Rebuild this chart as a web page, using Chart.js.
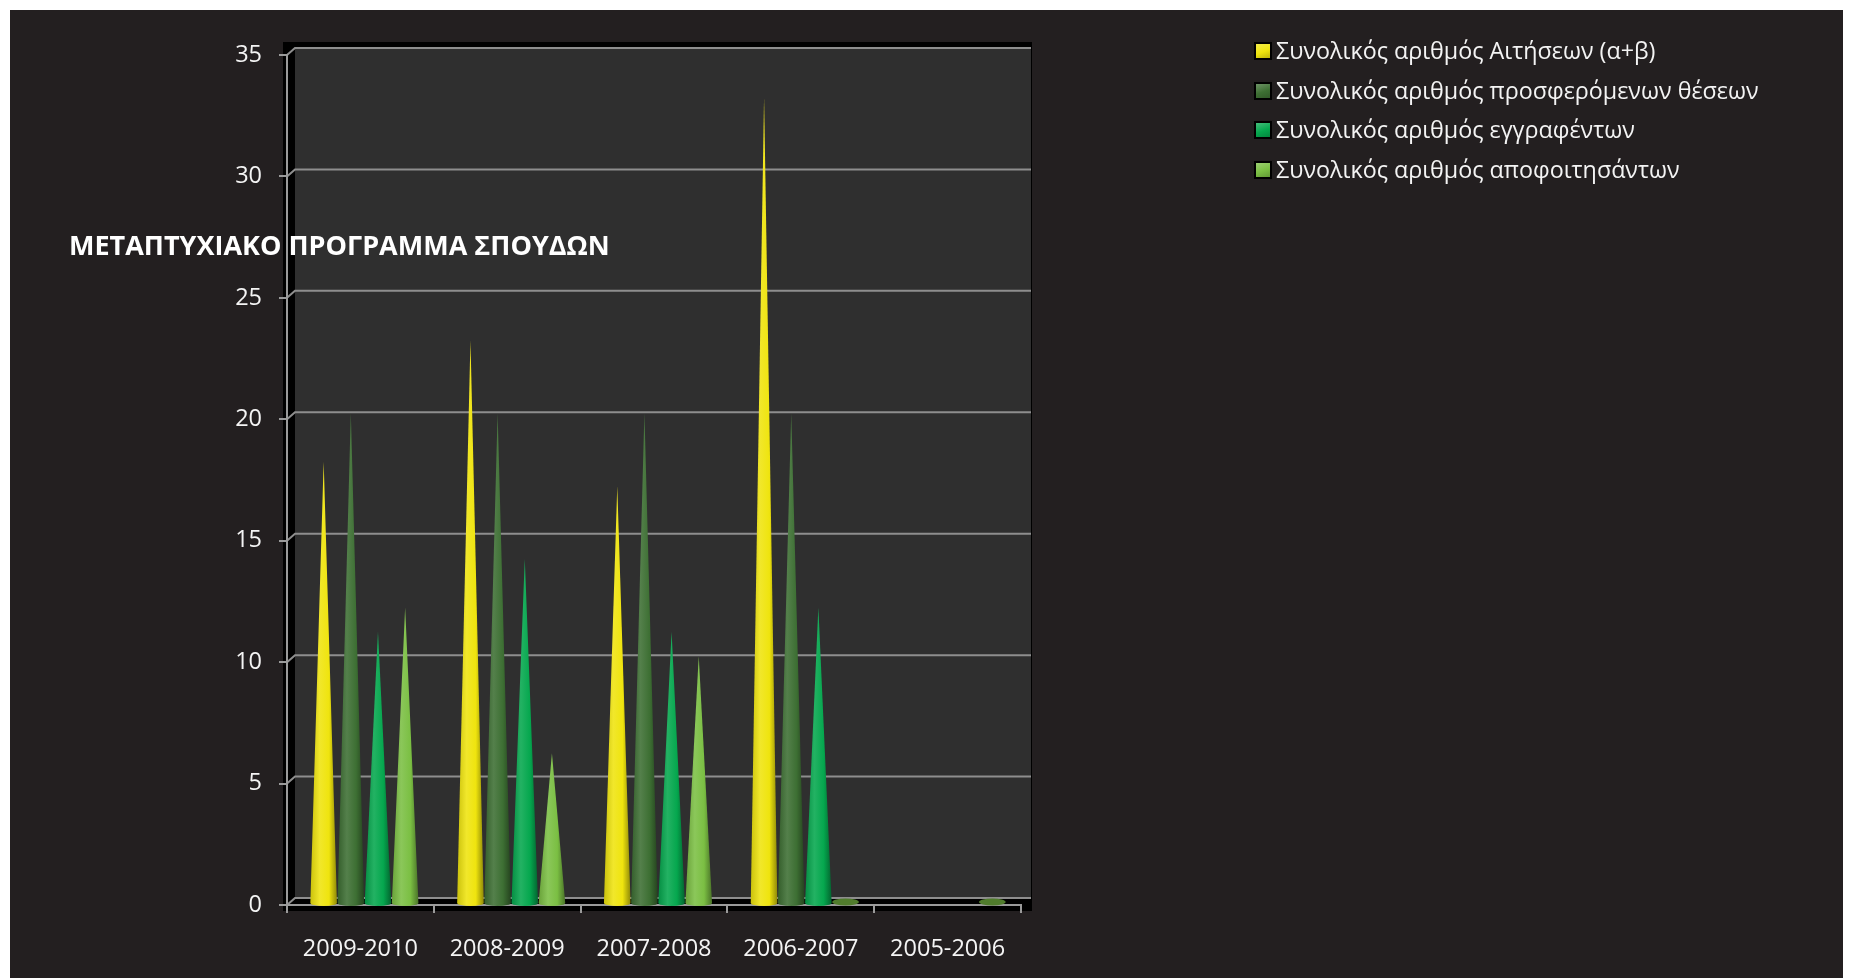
<!DOCTYPE html>
<html>
<head>
<meta charset="utf-8">
<script src="https://cdn.jsdelivr.net/npm/chart.js@4.4.1/dist/chart.umd.min.js"></script>
<style>
  html, body { margin: 0; padding: 0; background: #ffffff; }
  #frame { position: absolute; left: 10px; top: 10px; width: 1833px; height: 968px; background: #231f20; }
  #wrap { position: absolute; left: 0; top: 0; width: 1859px; height: 978px; }
  #title { position: absolute; left: 69px; top: 226px; color: #ffffff; font: bold 27px "Open Sans"; white-space: nowrap; }
  #legend { position: absolute; left: 1254px; top: 30px; font: 23.3px "Open Sans"; color: #f4f4f4; }
  #legend div { height: 39.5px; line-height: 40px; white-space: nowrap; }
  #legend span { display: inline-block; width: 14px; height: 14px; border: 2px solid #000; margin-right: 4px; vertical-align: -1px; }
</style>
</head>
<body>
<div id="frame"></div>
<div id="wrap"><canvas id="myChart"></canvas></div>
<div id="title">ΜΕΤΑΠΤΥΧΙΑΚΟ ΠΡΟΓΡΑΜΜΑ ΣΠΟΥΔΩΝ</div>
<div id="legend"></div>
<script>
var years = ['2009-2010', '2008-2009', '2007-2008', '2006-2007', '2005-2006'];
var seriesNames = [
    'Συνολικός αριθμός Αιτήσεων (α+β)',
    'Συνολικός αριθμός προσφερόμενων θέσεων',
    'Συνολικός αριθμός εγγραφέντων',
    'Συνολικός αριθμός αποφοιτησάντων'
];
var applications = [18, 23, 17, 33, null];
var places = [20, 20, 20, 20, null];
var enrolled = [11, 14, 11, 12, null];
var graduates = [12, 6, 10, 0, 0];
var yTicks = [0, 5, 10, 15, 20, 25, 30, 35];
var colors = ['#efe40e', '#3d6f33', '#05a74e', '#7bbf43'];

// 3d depth of the walls
var DX = 8, DY = -7;

function shade(hex, f) {
    var n = parseInt(hex.slice(1), 16);
    var r = n >> 16, g = (n >> 8) & 255, b = n & 255;
    var t = f < 0 ? 0 : 255, p = Math.abs(f);
    r = Math.round((t - r) * p + r); g = Math.round((t - g) * p + g); b = Math.round((t - b) * p + b);
    return 'rgb(' + r + ',' + g + ',' + b + ')';
}

var wallsPlugin = {
    id: 'walls',
    beforeDraw: function (chart) {
        var c = chart.ctx, a = chart.chartArea, y = chart.scales.y;
        c.save();
        c.fillStyle = '#000000';
        c.fillRect(a.left - 4, a.top - 13, a.right - a.left + DX + 7, a.bottom - a.top + 19);
        c.fillStyle = '#2f2f2f';
        c.fillRect(a.left + DX, a.top + DY - 1, a.right - a.left + 2, a.bottom - a.top + 1);
        c.strokeStyle = '#8e8e8e';
        c.lineWidth = 2;
        yTicks.forEach(function (v) {
            var py = y.getPixelForValue(v);
            c.beginPath();
            c.moveTo(a.left, py);
            c.lineTo(a.left + DX, py + DY);
            c.lineTo(a.right + DX + 2, py + DY);
            c.stroke();
        });
        c.restore();
    }
};

var conePlugin = {
    id: 'cones',
    beforeDatasetDraw: function (chart, args) {
        var c = chart.ctx, meta = args.meta, ds = chart.data.datasets[args.index];
        var base = chart.scales.y.getPixelForValue(0) - 2;
        var col = colors[args.index];
        c.save();
        meta.data.forEach(function (bar, i) {
            var v = ds.data[i];
            if (v === null || v === undefined) return;
            var w = bar.width * 0.98, cx = bar.x + 4;
            if (v === 0) {
                c.fillStyle = shade(col, -0.35);
                c.beginPath();
                c.ellipse(cx, base - 1, w / 2, 3.5, 0, 0, Math.PI * 2);
                c.fill();
                return;
            }
            var tip = bar.y + DY + 1;
            var g = c.createLinearGradient(cx - w / 2, 0, cx + w / 2, 0);
            g.addColorStop(0, shade(col, -0.15));
            g.addColorStop(0.35, shade(col, 0.12));
            g.addColorStop(0.7, col);
            g.addColorStop(1, shade(col, -0.4));
            c.fillStyle = g;
            c.beginPath();
            c.moveTo(cx - w / 2, base);
            c.lineTo(cx, tip);
            c.lineTo(cx + w / 2, base);
            c.ellipse(cx, base, w / 2, 3, 0, 0, Math.PI, false);
            c.closePath();
            c.fill();
        });
        c.restore();
        return false;
    }
};

var tickFont = { family: 'Open Sans', size: 23.5 };

var myChart = new Chart(document.getElementById('myChart'), {
    type: 'bar',
    data: {
        labels: years,
        datasets: [
            { label: seriesNames[0], data: applications, backgroundColor: colors[0] },
            { label: seriesNames[1], data: places, backgroundColor: colors[1] },
            { label: seriesNames[2], data: enrolled, backgroundColor: colors[2] },
            { label: seriesNames[3], data: graduates, backgroundColor: colors[3] }
        ]
    },
    options: {
        responsive: true,
        maintainAspectRatio: false,
        animation: false,
        layout: { padding: { left: 0, right: 838, top: 55, bottom: 0 } },
        datasets: { bar: { categoryPercentage: 0.74, barPercentage: 1.0 } },
        plugins: { legend: { display: false }, tooltip: { enabled: false } },
        scales: {
            x: {
                grid: { drawOnChartArea: false, color: '#9a9a9a', lineWidth: 2, tickLength: 8, offset: true },
                border: { color: '#9a9a9a', width: 2 },
                ticks: { color: '#f4f4f4', font: tickFont, padding: 22, maxRotation: 0 },
                afterFit: function (s) { s.height = 73; }
            },
            y: {
                min: 0, max: 35,
                afterBuildTicks: function (s) { s.ticks = yTicks.map(function (v) { return { value: v }; }); },
                grid: { drawOnChartArea: false, color: '#9a9a9a', lineWidth: 2, tickLength: 8 },
                border: { color: '#9a9a9a', width: 2 },
                ticks: { color: '#f4f4f4', font: tickFont, padding: 17 },
                afterFit: function (s) { s.width = 287; }
            }
        }
    },
    plugins: [wallsPlugin, conePlugin]
});

// legend built from the chart datasets
var leg = document.getElementById('legend');
myChart.data.datasets.forEach(function (ds) {
    var row = document.createElement('div');
    var box = document.createElement('span');
    box.style.background = 'linear-gradient(160deg,' + shade(ds.backgroundColor, 0.25) + ',' + ds.backgroundColor + ' 55%,' + shade(ds.backgroundColor, -0.2) + ')';
    row.appendChild(box);
    row.appendChild(document.createTextNode(ds.label));
    leg.appendChild(row);
});
</script>
</body>
</html>
